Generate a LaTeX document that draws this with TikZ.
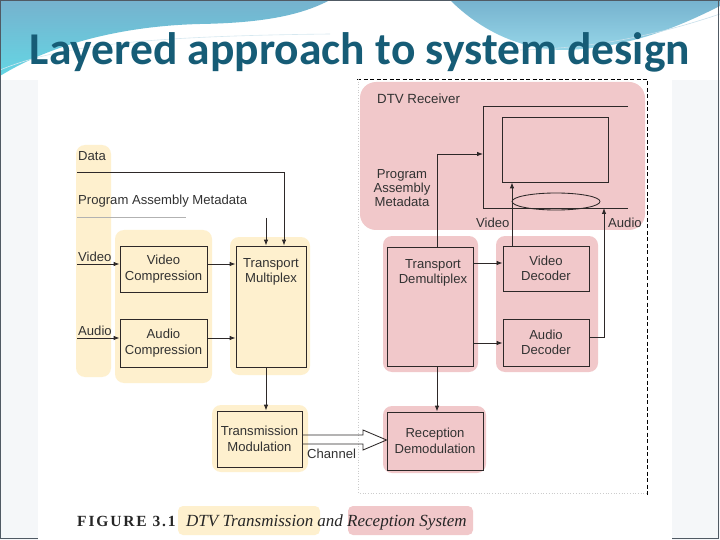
\documentclass[tikz,border=0pt]{standalone}
\usepackage{fontspec}
\setmainfont{Liberation Sans}
\newfontfamily\ttlfont{Carlito}
\newfontfamily\capserif{Liberation Serif}
\newfontfamily\capspaced[LetterSpace=12]{Liberation Serif}
\usetikzlibrary{arrows.meta,shapes.geometric}
\definecolor{yel}{RGB}{254,240,206}
\definecolor{pnk}{RGB}{241,200,202}
\definecolor{ln}{RGB}{45,40,40}
\definecolor{txt}{RGB}{50,50,50}
\definecolor{ttl}{RGB}{22,92,118}
\definecolor{hdrA}{RGB}{118,178,206}
\definecolor{hdrB}{RGB}{100,214,228}
\definecolor{hdrC}{RGB}{150,214,232}
\definecolor{slidebg}{RGB}{245,247,249}
\definecolor{frm}{RGB}{80,90,100}
\tikzset{
  blk/.style={draw=ln, line width=0.85pt, align=center, inner sep=0pt, text=txt,
              font=\fontsize{13.1}{15.5}\selectfont},
  lbl/.style={font=\fontsize{13.1}{15.5}\selectfont, inner sep=0pt, text=txt},
  con/.style={draw=ln, line width=0.85pt},
  arr/.style={con, -{Latex[length=6pt,width=4.5pt]}},
  ybg/.style={fill=yel, rounded corners=9pt},
  pbg/.style={fill=pnk, rounded corners=9pt},
}
\begin{document}
\begin{tikzpicture}[x=1pt,y=-1pt]
\useasboundingbox (0,0) rectangle (720,540);
% slide background
\fill[slidebg] (0,0) rectangle (720,540);
\fill[white] (0,0) rectangle (720,80);
% header waves
\shade[top color=hdrA, bottom color=hdrB]
  (0,0) -- (330,0) .. controls (300,16) and (260,23) .. (200,24)
  .. controls (120,26) and (50,45) .. (0,76) -- cycle;
\shade[top color=hdrA, bottom color=hdrC]
  (450,0) -- (720,0) -- (720,6) .. controls (680,26) and (630,48) .. (565,50)
  .. controls (520,50) and (480,30) .. (450,0) -- cycle;
\draw[white!70!hdrA, line width=0.6pt] (0,70) .. controls (60,45) and (150,36) .. (330,34);
\draw[white!60!hdrA, line width=0.6pt] (720,14) .. controls (660,34) and (600,48) .. (520,50);
% figure area
\fill[white] (38,75) rectangle (672,540);
% frame
\draw[frm, line width=1pt] (0.5,0) -- (0.5,538) -- (38,538);
\draw[frm, line width=1pt] (672,538) -- (718.5,538) -- (718.5,0);
\draw[frm, line width=1pt] (0,0.5) -- (720,0.5);
% title
\node (title) [font=\ttlfont\bfseries\fontsize{45.5}{50}\selectfont, text=ttl, anchor=base, inner sep=0pt]
  at (360,65) {Layered approach to system design};

% receiver boundary
\draw[black, dash pattern=on 4pt off 2.5pt, line width=0.7pt] (357,79) -- (647,79) -- (647,495);
\draw[black!20, dotted, line width=0.7pt] (358,79) -- (358,493) -- (647,493);

% backgrounds
\fill[ybg] (76,145) rectangle (111,377);
\fill[ybg] (115,230) rectangle (212,383);
\fill[ybg] (230,237) rectangle (310,375);
\fill[ybg] (212,405) rectangle (308,472);
\fill[pbg, rounded corners=16pt] (360,82) rectangle (645,230);
\fill[pbg] (383,236) rectangle (478,372);
\fill[pbg] (496,236) rectangle (598,372);
\fill[pbg] (383,406) rectangle (486,473);

% transmitter side
\node (lData) [lbl, anchor=base west] at (78,161) {Data};
\node (lPAM) [lbl, anchor=base west] at (78,205) {Program Assembly Metadata};
\node (lVid) [lbl, anchor=base west] at (78,261) {Video};
\node (lAud) [lbl, anchor=base west] at (78,335) {Audio};
\draw[black!30, line width=0.5pt] (77,217) -- (186,217);

\node (vc) [blk, minimum width=87pt, minimum height=46pt] at (163.5,269) {Video\\Compression};
\node (ac) [blk, minimum width=87pt, minimum height=48pt] at (163.5,343) {Audio\\Compression};
\node (tmx) [blk, minimum width=70pt, minimum height=121pt] at (271,306.5) {};
\node (tmxt) [lbl, align=center] at (271,272) {Transport\\Multiplex};
\node (tmod) [blk, minimum width=85pt, minimum height=56pt] at (259.5,439) {Transmission\\Modulation};

\coordinate (dstart) at (77,172);
\coordinate (mstart) at (266,218);
\coordinate (vin) at (77,264);
\coordinate (ain) at (77,338);
\draw[arr] (dstart) -| ([xshift=13pt]tmx.north);
\draw[arr] (mstart) -- (mstart |- tmx.north);
\draw[arr] (vin) -- (vin -| vc.west);
\draw[arr] (ain) -- (ain -| ac.west);
\draw[arr] (vin -| vc.east) -- (vin -| tmx.west);
\draw[arr] (ain -| ac.east) -- (ain -| tmx.west);
\draw[arr] (mstart |- tmx.south) -- (mstart |- tmod.north);

% receiver side
\node (lDTV) [lbl, anchor=base west, font=\fontsize{13.3}{15}\selectfont] at (377,104) {DTV Receiver};
\node (lPAMr) [lbl, align=center, font=\fontsize{13.1}{14.2}\selectfont] at (402,188) {Program\\Assembly\\Metadata};
\node (lVr) [lbl, anchor=base west] at (476,227) {Video};
\node (lAr) [lbl, anchor=base west] at (608,227) {Audio};

\coordinate (tvTR) at (628,106);
\coordinate (tvTL) at (483,106);
\coordinate (tvBL) at (483,208);
\coordinate (tvBR) at (628,208);
\draw[con] (tvTR) -- (tvTL) -- (tvBL) -- (tvBR);
\node (scr) [blk, minimum width=106pt, minimum height=65pt] at (555,149.5) {};
\node (ell) [draw=ln, line width=0.85pt, ellipse, minimum width=88pt, minimum height=17pt, inner sep=0pt] at (556,201.5) {};

\node (tdm) [blk, minimum width=86pt, minimum height=119pt] at (430,306.5) {};
\node (tdmt) [lbl, align=center] at (433,273) {Transport\\Demultiplex};
\node (vd) [blk, minimum width=86pt, minimum height=45pt] at (546,268.5) {Video\\Decoder};
\node (ad) [blk, minimum width=86pt, minimum height=47pt] at (546,342.5) {Audio\\Decoder};
\node (rdem) [blk, minimum width=96pt, minimum height=58pt] at (435,441) {Reception\\Demodulation};

\coordinate (mline) at (437,154);
\coordinate (vrow) at (0,263);
\coordinate (arow) at (0,343);
\coordinate (vx) at (512,0);
\coordinate (aup) at (604,208);
\coordinate (aout) at (589,337);
\draw[arr] (mline |- tdm.north) -- (mline) -- (mline -| tvTL);
\draw[arr] (vrow -| tdm.east) -- (vrow -| vd.west);
\draw[arr] (arow -| tdm.east) -- (arow -| ad.west);
\draw[arr] (vx |- vd.north) -- (vx |- scr.south);
\draw[arr] (aout) -| (aup);
\draw[arr] (mline |- tdm.south) -- (mline |- rdem.north);

% channel
\draw[con, line join=miter] (tmod.east |- 0,435) -- (363,435) -- (363,430) -- (rdem.west |- 0,440)
   -- (363,450) -- (363,444) -- (tmod.east |- 0,444);
\node (lCh) [lbl, anchor=base west] at (307,458) {Channel};

% caption
\fill[yel, rounded corners=5pt] (178,506) rectangle (320,535);
\fill[pnk, rounded corners=5pt] (348,506) rectangle (473,535);
\node (capA) [anchor=base west, inner sep=0pt, font=\capspaced\bfseries\fontsize{15.5}{17}\selectfont, text=black!85]
  at (77,526) {FIGURE 3.1};
\node (capB) [anchor=base west, inner sep=0pt, font=\capserif\itshape\fontsize{17}{19}\selectfont, text=black!85]
  at (186,526) {DTV Transmission and Reception System};
\end{tikzpicture}
\end{document}
